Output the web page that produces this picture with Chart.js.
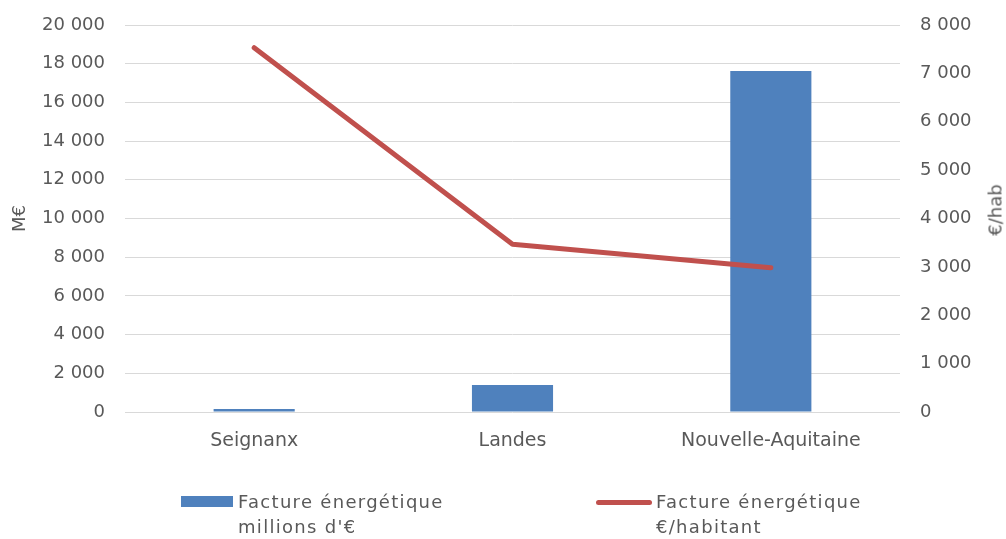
<!DOCTYPE html>
<html>
<head>
<meta charset="utf-8">
<script src="https://cdn.jsdelivr.net/npm/chart.js@4"></script>
<style>
  html, body { margin: 0; padding: 0; background: #fff; }
  #wrap { position: relative; width: 1006px; height: 539px; font-family: "DejaVu Sans", sans-serif; color: #595959; }
  #c { position: absolute; left: 0; top: 0; }
  .ttl { position: absolute; font-size: 18px; white-space: nowrap; }
  .leg { position: absolute; font-size: 18px; line-height: 25px; letter-spacing: 1.3px; white-space: nowrap; }
  .sw { position: absolute; }
</style>
</head>
<body>
<div id="wrap">
  <canvas id="c" width="1006" height="539"></canvas>
  <div class="ttl" id="rtitle" style="left:995px; top:210px; transform: translate(-50%,-50%) rotate(-90deg);">€/hab</div>
  <div class="sw" style="left:181px; top:496px; width:52px; height:11px; background:#4F81BD;"></div>
  <div class="leg" style="left:238px; top:489px;">Facture énergétique<br>millions d'€</div>
  <div class="sw" style="left:596px; top:500px; width:56px; height:5px; border-radius:3px; background:#C0504D;"></div>
  <div class="leg" style="left:656px; top:489px;">Facture énergétique<br>€/habitant</div>
</div>
<script>
const categories = ["Seignanx", "Landes", "Nouvelle-Aquitaine"];
const factureMillions = [160, 1400, 17620];
const factureParHabitant = [7530, 3470, 2980];
const seriesNames = ["Facture énergétique millions d'€", "Facture énergétique €/habitant"];

const fmt = v => String(Math.round(v)).replace(/\B(?=(\d{3})+(?!\d))/g, " ");
const FONT = { family: "DejaVu Sans", size: 18 };
const XFONT = { family: "DejaVu Sans", size: 19 };
const GREY = "#595959";

new Chart(document.getElementById("c"), {
  data: {
    labels: categories,
    datasets: [
      {
        type: "line",
        label: seriesNames[1],
        data: factureParHabitant,
        yAxisID: "y1",
        borderColor: "#C0504D",
        backgroundColor: "#C0504D",
        borderWidth: 5,
        borderCapStyle: "round",
        borderJoinStyle: "round",
        pointRadius: 0,
        tension: 0,
        order: 0
      },
      {
        type: "bar",
        label: seriesNames[0],
        data: factureMillions,
        yAxisID: "y",
        backgroundColor: "#4F81BD",
        categoryPercentage: 1,
        barPercentage: 0.314,
        order: 1
      }
    ]
  },
  options: {
    responsive: false,
    animation: false,
    layout: { padding: { top: 25, bottom: 0, left: 0, right: 0 } },
    plugins: { legend: { display: false }, tooltip: { enabled: false } },
    scales: {
      x: {
        grid: { display: false, drawTicks: false },
        border: { display: false },
        ticks: { color: GREY, font: XFONT, padding: 18, maxRotation: 0 },
        afterFit: s => { s.height = 127; }
      },
      y: {
        position: "left",
        min: 0, max: 20000,
        ticks: { stepSize: 2000, color: GREY, font: FONT, padding: 20, callback: v => fmt(v) },
        grid: { color: "#D9D9D9", lineWidth: 1, drawTicks: false },
        border: { display: false },
        title: { display: true, text: "M€", color: GREY, font: FONT, padding: { top: 10, bottom: 0 } },
        afterFit: s => { s.width = 125; s.paddingTop = 0; s.paddingBottom = 0; }
      },
      y1: {
        position: "right",
        min: 0, max: 8000,
        ticks: { stepSize: 1000, color: GREY, font: FONT, padding: 20, callback: v => fmt(v) },
        grid: { display: false, drawTicks: false },
        border: { display: false },
        afterFit: s => { s.width = 106; s.paddingTop = 0; s.paddingBottom = 0; }
      }
    }
  }
});
</script>
</body>
</html>
